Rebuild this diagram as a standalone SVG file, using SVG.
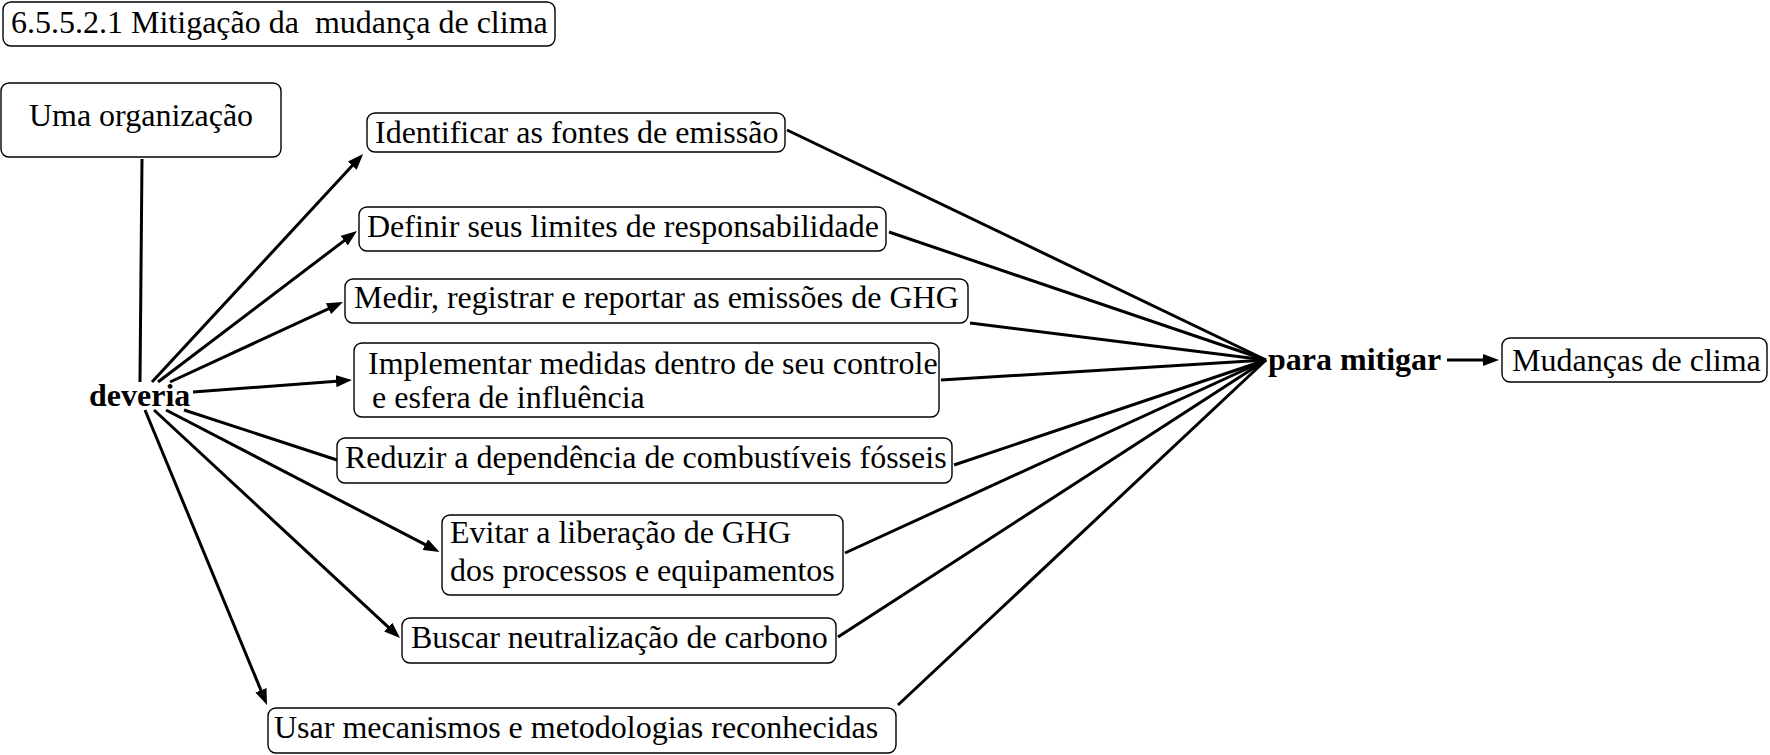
<svg xmlns="http://www.w3.org/2000/svg" width="1770" height="755" viewBox="0 0 1770 755">
<style>
.box{fill:#fff;stroke:#000;stroke-width:1.4}
.t{font-family:"Liberation Serif","Times New Roman",serif;font-size:32px;fill:#000}
.b{font-weight:bold}
.c{stroke:#000;stroke-width:3;fill:none}
.a{marker-end:url(#ah)}
</style>
<defs>
<marker id="ah" markerUnits="userSpaceOnUse" markerWidth="16" markerHeight="12" refX="7" refY="6" orient="auto">
<path d="M0,0 L16,6 L0,12 z" fill="#000"/>
</marker>
</defs>
<rect width="1770" height="755" fill="#fff"/>
<g id="connectors">
<line class="c" x1="142" y1="159" x2="140" y2="382"/>
<line class="c a" x1="152" y1="382" x2="357" y2="160.6"/>
<line class="c a" x1="158" y1="382" x2="349.8" y2="236.4"/>
<line class="c a" x1="170" y1="382" x2="334.8" y2="305.8"/>
<line class="c a" x1="193" y1="392" x2="343" y2="380.7"/>
<line class="c" x1="184" y1="410" x2="337" y2="460"/>
<line class="c a" x1="166" y1="410" x2="431.5" y2="547.9"/>
<line class="c a" x1="154" y1="410" x2="393.4" y2="631.9"/>
<line class="c a" x1="145" y1="410" x2="263.6" y2="696.7"/>
<line class="c" x1="787" y1="130" x2="1266" y2="360"/>
<line class="c" x1="889" y1="232" x2="1266" y2="360"/>
<line class="c" x1="970" y1="323" x2="1266" y2="360"/>
<line class="c" x1="941" y1="380" x2="1266" y2="360"/>
<line class="c" x1="954" y1="465" x2="1266" y2="360"/>
<line class="c" x1="845" y1="553" x2="1266" y2="360"/>
<line class="c" x1="838" y1="637" x2="1266" y2="360"/>
<line class="c" x1="898" y1="705" x2="1266" y2="360"/>
<line class="c a" x1="1447" y1="360" x2="1490" y2="360"/>
</g>
<g id="title">
<rect class="box" x="3" y="2" width="552" height="44" rx="8"/>
<text class="t" x="11" y="33" xml:space="preserve">6.5.5.2.1 Mitigação da  mudança de clima</text>
</g>
<g id="uma">
<rect class="box" x="1" y="83" width="280" height="74" rx="8"/>
<text class="t" x="141" y="126" text-anchor="middle">Uma organização</text>
</g>
<g id="deveria">
<text class="t b" x="89" y="406">deveria</text>
</g>
<g id="identificar">
<rect class="box" x="367" y="113" width="418" height="39" rx="8"/>
<text class="t" x="375" y="143">Identificar as fontes de emissão</text>
</g>
<g id="definir">
<rect class="box" x="359" y="207" width="527" height="44" rx="8"/>
<text class="t" x="367" y="237">Definir seus limites de responsabilidade</text>
</g>
<g id="medir">
<rect class="box" x="345" y="279" width="623" height="44" rx="8"/>
<text class="t" x="354" y="308">Medir, registrar e reportar as emissões de GHG</text>
</g>
<g id="implementar">
<rect class="box" x="354" y="343" width="585" height="74" rx="8"/>
<text class="t" x="368" y="374">Implementar medidas dentro de seu controle</text>
<text class="t" x="364" y="408" xml:space="preserve"> e esfera de influência</text>
</g>
<g id="reduzir">
<rect class="box" x="337" y="438" width="615" height="45" rx="8"/>
<text class="t" x="345" y="468">Reduzir a dependência de combustíveis fósseis</text>
</g>
<g id="evitar">
<rect class="box" x="442" y="515" width="401" height="80" rx="8"/>
<text class="t" x="450" y="543">Evitar a liberação de GHG</text>
<text class="t" x="450" y="581">dos processos e equipamentos</text>
</g>
<g id="buscar">
<rect class="box" x="402" y="618" width="434" height="45" rx="8"/>
<text class="t" x="411" y="648">Buscar neutralização de carbono</text>
</g>
<g id="usar">
<rect class="box" x="268" y="708" width="628" height="45" rx="8"/>
<text class="t" x="274" y="738">Usar mecanismos e metodologias reconhecidas</text>
</g>
<g id="para">
<text class="t b" x="1268" y="370">para mitigar</text>
</g>
<g id="mudancas">
<rect class="box" x="1502" y="338" width="265" height="44" rx="8"/>
<text class="t" x="1512" y="371">Mudanças de clima</text>
</g>
</svg>
